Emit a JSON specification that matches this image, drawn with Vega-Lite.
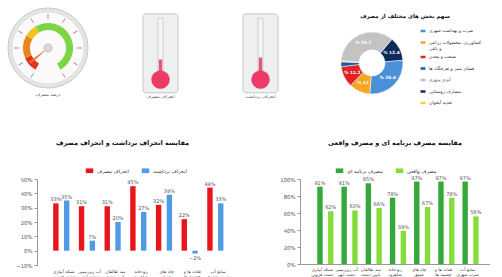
{
  "$schema": "https://vega.github.io/schema/vega-lite/v6.json",
  "padding": 0,
  "background": "white",
  "config": {
    "font": "DejaVu Sans",
    "view": {"stroke": null},
    "title": {"font": "DejaVu Sans", "fontSize": 6.5, "fontWeight": "bold", "color": "#111"},
    "legend": {"labelFont": "DejaVu Sans"},
    "axis": {"labelFont": "DejaVu Sans"}
  },
  "resolve": {"scale": {"color": "independent", "theta": "independent"}, "legend": {"color": "independent"}},
  "columns": 1,
  "align": "none",
  "spacing": 13,
  "concat": [
    {
      "columns": 4,
      "align": "none",
      "spacing": 4,
      "resolve": {"scale": {"color": "independent", "theta": "independent"}, "legend": {"color": "independent"}},
      "concat": [
        {
          "width": 96,
          "height": 96,
          "title": {"text": "درصد مصرف", "orient": "bottom", "offset": -4, "fontSize": 4.5, "fontWeight": "normal", "color": "#555"},
          "layer": [
            {
              "data": {"values": [{"a": -10, "b": 110}]},
              "mark": {"type": "arc", "radius": 40, "fill": "#e4e6e6", "stroke": "#c6caca", "strokeWidth": 1},
              "encoding": {
                "theta": {"field": "a", "type": "quantitative", "stack": null, "scale": {"domain": [0, 100], "range": [3.665, 8.901]}},
                "theta2": {"field": "b"}
              }
            },
            {
              "data": {"values": [{"a": -10, "b": 110}]},
              "mark": {"type": "arc", "radius": 36, "fill": "#fafafa", "stroke": "#d8dada", "strokeWidth": 0.6},
              "encoding": {
                "theta": {"field": "a", "type": "quantitative", "stack": null},
                "theta2": {"field": "b"}
              }
            },
            {
              "data": {"values": [{"t": 0}, {"t": 10}, {"t": 20}, {"t": 30}, {"t": 40}, {"t": 50}, {"t": 60}, {"t": 70}, {"t": 80}, {"t": 90}, {"t": 100}]},
              "mark": {"type": "arc", "radius": 34, "radius2": 29, "thetaOffset": -0.015, "theta2Offset": 0.015, "fill": "#9a9a9a"},
              "encoding": {
                "theta": {"field": "t", "type": "quantitative", "stack": null},
                "theta2": {"field": "t"}
              }
            },
            {
              "data": {"values": [{"s": "r", "a": 0, "b": 12}, {"s": "o", "a": 12, "b": 30}, {"s": "y", "a": 30, "b": 40}, {"s": "g", "a": 40, "b": 100}]},
              "mark": {"type": "arc", "radius": 25, "radius2": 18},
              "encoding": {
                "theta": {"field": "a", "type": "quantitative", "stack": null},
                "theta2": {"field": "b"},
                "color": {"field": "s", "type": "nominal", "scale": {"domain": ["r", "o", "y", "g"], "range": ["#e5301f", "#e8871e", "#f0c419", "#7dd444"]}, "legend": null}
              }
            },
            {
              "data": {"values": [{"v": 7}]},
              "mark": {"type": "arc", "radius": 23, "radius2": 0, "thetaOffset": -0.06, "theta2Offset": 0.06, "fill": "#e8701e"},
              "encoding": {
                "theta": {"field": "v", "type": "quantitative", "stack": null},
                "theta2": {"field": "v"}
              }
            },
            {
              "data": {"values": [{"a": -10, "b": 110}]},
              "mark": {"type": "arc", "radius": 4, "fill": "#d9d9d9", "stroke": "#a8a8a8", "strokeWidth": 0.6},
              "encoding": {
                "theta": {"field": "a", "type": "quantitative", "stack": null},
                "theta2": {"field": "b"}
              }
            }
          ]
        },
        {
          "width": 100,
          "height": 110,
          "data": {"values": [{"level": 21, "label": "انحراف مصرف"}]},
          "layer": [
            {
              "mark": {"type": "rect", "fill": "#eef0f0", "stroke": "#c4c8c8", "strokeWidth": 1, "cornerRadius": 3},
              "encoding": {
                "x": {"datum": 43, "type": "quantitative", "scale": {"domain": [0, 100]}, "axis": null},
                "x2": {"datum": 78},
                "y": {"datum": -45.6, "type": "quantitative", "scale": {"domain": [-63.2, 129.8]},
                      "axis": {"offset": -57, "values": [20, 40, 60, 80, 100], "domain": false, "tickSize": 2, "tickColor": "#999", "labelFontSize": 4, "labelColor": "#777", "labelPadding": 1, "grid": false, "title": null}},
                "y2": {"datum": 112.3}
              }
            },
            {
              "mark": {"type": "rect", "fill": "#f6f6f6", "stroke": "#b5b9b9", "strokeWidth": 0.6},
              "encoding": {
                "x": {"datum": 58, "type": "quantitative", "axis": null},
                "x2": {"datum": 63},
                "y": {"datum": -19, "type": "quantitative", "axis": null},
                "y2": {"datum": 103.5}
              }
            },
            {
              "mark": {"type": "rect", "fill": "#e2587c"},
              "encoding": {
                "x": {"datum": 58.8, "type": "quantitative", "axis": null},
                "x2": {"datum": 62.2},
                "y": {"field": "level", "type": "quantitative", "axis": null},
                "y2": {"datum": -19}
              }
            },
            {
              "mark": {"type": "point", "shape": "circle", "filled": true, "size": 320, "fill": "#ee3a66", "opacity": 1, "stroke": "#d8305a", "strokeWidth": 0.5},
              "encoding": {
                "x": {"datum": 60.5, "type": "quantitative", "axis": null},
                "y": {"datum": -19.3, "type": "quantitative", "axis": null}
              }
            },
            {
              "mark": {"type": "text", "fontSize": 4.5, "fill": "#555"},
              "encoding": {
                "x": {"datum": 60.5, "type": "quantitative", "axis": null},
                "y": {"datum": -53, "type": "quantitative", "axis": null},
                "text": {"field": "label", "type": "nominal"}
              }
            }
          ]
        },
        {
          "width": 100,
          "height": 110,
          "data": {"values": [{"level": 25, "label": "انحراف برداشت"}]},
          "layer": [
            {
              "mark": {"type": "rect", "fill": "#eef0f0", "stroke": "#c4c8c8", "strokeWidth": 1, "cornerRadius": 3},
              "encoding": {
                "x": {"datum": 39, "type": "quantitative", "scale": {"domain": [0, 100]}, "axis": null},
                "x2": {"datum": 74},
                "y": {"datum": -45.6, "type": "quantitative", "scale": {"domain": [-63.2, 129.8]},
                      "axis": {"offset": -53, "values": [20, 40, 60, 80, 100], "domain": false, "tickSize": 2, "tickColor": "#999", "labelFontSize": 4, "labelColor": "#777", "labelPadding": 1, "grid": false, "title": null}},
                "y2": {"datum": 112.3}
              }
            },
            {
              "mark": {"type": "rect", "fill": "#f6f6f6", "stroke": "#b5b9b9", "strokeWidth": 0.6},
              "encoding": {
                "x": {"datum": 54, "type": "quantitative", "axis": null},
                "x2": {"datum": 59},
                "y": {"datum": -19, "type": "quantitative", "axis": null},
                "y2": {"datum": 103.5}
              }
            },
            {
              "mark": {"type": "rect", "fill": "#e2587c"},
              "encoding": {
                "x": {"datum": 54.8, "type": "quantitative", "axis": null},
                "x2": {"datum": 58.2},
                "y": {"field": "level", "type": "quantitative", "axis": null},
                "y2": {"datum": -19}
              }
            },
            {
              "mark": {"type": "point", "shape": "circle", "filled": true, "size": 320, "fill": "#ee3a66", "opacity": 1, "stroke": "#d8305a", "strokeWidth": 0.5},
              "encoding": {
                "x": {"datum": 56.5, "type": "quantitative", "axis": null},
                "y": {"datum": -19.3, "type": "quantitative", "axis": null}
              }
            },
            {
              "mark": {"type": "text", "fontSize": 4.5, "fill": "#555"},
              "encoding": {
                "x": {"datum": 56.5, "type": "quantitative", "axis": null},
                "y": {"datum": -53, "type": "quantitative", "axis": null},
                "text": {"field": "label", "type": "nominal"}
              }
            }
          ]
        },
        {
          "width": 128,
          "height": 126,
          "title": {"text": "سهم بخش های مختلف از مصرف", "offset": -19, "dx": 33, "fontSize": 5.5},
          "data": {"values": [
            {"cat": "مصارف روستایی", "v": 12.5, "o": 1, "lab": "% 12.4"},
            {"cat": "شرب و بهداشت شهری", "v": 27.5, "o": 2, "lab": "% 26.6"},
            {"cat": "کشاورزی، محصولات زراعی|و باغی", "v": 11, "o": 3, "lab": "% 11"},
            {"cat": "صنعت و معدن", "v": 11, "o": 4, "lab": "% 11.2"},
            {"cat": "فضای سبز و تفرجگاه ها", "v": 2.5, "o": 5, "lab": ""},
            {"cat": "تغذیه آبخوان", "v": 0.5, "o": 6, "lab": ""},
            {"cat": "آبزی پروری", "v": 35, "o": 7, "lab": "% 35.7"}
          ]},
          "encoding": {
            "theta": {"field": "v", "type": "quantitative", "stack": true, "scale": {"range": [0.698, 6.981]}},
            "order": {"field": "o", "type": "quantitative"}
          },
          "layer": [
            {
              "mark": {"type": "arc", "radius": 31, "radius2": 13, "stroke": "white", "strokeWidth": 0.5},
              "encoding": {
                "color": {
                  "field": "cat", "type": "nominal",
                  "scale": {
                    "domain": ["شرب و بهداشت شهری", "کشاورزی، محصولات زراعی|و باغی", "صنعت و معدن", "فضای سبز و تفرجگاه ها", "آبزی پروری", "مصارف روستایی", "تغذیه آبخوان"],
                    "range": ["#4a90d9", "#f5a623", "#e02424", "#1e5aa8", "#c3c3c3", "#0c2a5b", "#f2d233"]
                  },
                  "legend": {"orient": "none", "legendX": 112, "legendY": 28, "title": null, "labelFontSize": 4.5, "labelColor": "#333", "labelExpr": "split(datum.label, '|')", "symbolType": "M-1.6,-1H1.6V1H-1.6Z", "symbolSize": 16, "rowPadding": 1.5, "labelLimit": 120, "labelOffset": 3}
                }
              }
            },
            {
              "mark": {"type": "text", "radius": 22, "fill": "white", "fontSize": 4.3, "fontWeight": "bold"},
              "encoding": {
                "detail": {"field": "cat", "type": "nominal"},
                "text": {"field": "lab", "type": "nominal"}
              }
            }
          ]
        }
      ]
    },
    {
      "columns": 2,
      "align": "none",
      "spacing": 5,
      "resolve": {"scale": {"color": "independent"}, "legend": {"color": "independent"}},
      "concat": [
        {
          "width": 245,
          "height": 86,
          "title": {"text": "مقایسه انحراف برداشت و انحراف مصرف", "offset": 21},
          "data": {"values": [
            {"g": "شبکه آبیاری|دشت قزوین", "s": "انحراف مصرف", "v": 0.33},
            {"g": "شبکه آبیاری|دشت قزوین", "s": "انحراف برداشت", "v": 0.35},
            {"g": "آب زیرزمینی|دشت ابهر", "s": "انحراف مصرف", "v": 0.31},
            {"g": "آب زیرزمینی|دشت ابهر", "s": "انحراف برداشت", "v": 0.07},
            {"g": "سد طالقان|پایین دست", "s": "انحراف مصرف", "v": 0.31},
            {"g": "سد طالقان|پایین دست", "s": "انحراف برداشت", "v": 0.20},
            {"g": "رودخانه|شاهرود", "s": "انحراف مصرف", "v": 0.45},
            {"g": "رودخانه|شاهرود", "s": "انحراف برداشت", "v": 0.27},
            {"g": "چاه های|عمیق", "s": "انحراف مصرف", "v": 0.32},
            {"g": "چاه های|عمیق", "s": "انحراف برداشت", "v": 0.39},
            {"g": "قنات ها و|چشمه ها", "s": "انحراف مصرف", "v": 0.22},
            {"g": "قنات ها و|چشمه ها", "s": "انحراف برداشت", "v": -0.02},
            {"g": "منابع آب|شرب شهری", "s": "انحراف مصرف", "v": 0.44},
            {"g": "منابع آب|شرب شهری", "s": "انحراف برداشت", "v": 0.33}
          ]},
          "encoding": {
            "x": {"field": "g", "type": "nominal", "sort": null, "scale": {"range": [37, 245], "paddingInner": 0.16, "paddingOuter": 0.63},
                  "axis": {"title": null, "labelAngle": 0, "labelExpr": "split(datum.value, '|')", "labelFontSize": 4.3, "labelColor": "#444", "labelLineHeight": 5.5, "ticks": false, "domain": false, "labelPadding": 4}},
            "xOffset": {"field": "s", "type": "nominal", "sort": ["انحراف مصرف", "انحراف برداشت"]},
            "y": {"field": "v", "type": "quantitative", "scale": {"domain": [-0.1, 0.5]},
                  "axis": {"title": null, "offset": -37, "values": [-0.1, 0, 0.1, 0.2, 0.3, 0.4, 0.5], "format": ".0%", "grid": false, "domainColor": "#999", "tickColor": "#999", "tickSize": 3, "labelFontSize": 5.3, "labelColor": "#555"}}
          },
          "layer": [
            {
              "mark": {"type": "bar"},
              "encoding": {
                "color": {"field": "s", "type": "nominal", "sort": ["انحراف مصرف", "انحراف برداشت"],
                          "scale": {"domain": ["انحراف مصرف", "انحراف برداشت"], "range": ["#e8151b", "#519ae6"]},
                          "legend": {"orient": "none", "legendX": 86, "legendY": -12, "direction": "horizontal", "title": null, "labelFontSize": 5, "labelColor": "#333", "symbolType": "M-1.6,-1H1.6V1H-1.6Z", "symbolSize": 22, "columnPadding": 12}}
              }
            },
            {
              "transform": [{"filter": "datum.v >= 0"}],
              "mark": {"type": "text", "baseline": "bottom", "dy": -1, "fontSize": 5, "fill": "#555"},
              "encoding": {"text": {"field": "v", "type": "quantitative", "format": ".0%"}}
            },
            {
              "transform": [{"filter": "datum.v < 0"}],
              "mark": {"type": "text", "baseline": "top", "dy": 2, "fontSize": 5, "fill": "#555"},
              "encoding": {"text": {"field": "v", "type": "quantitative", "format": ".0%"}}
            }
          ]
        },
        {
          "width": 190,
          "height": 85,
          "title": {"text": "مقایسه مصرف برنامه ای و مصرف واقعی", "offset": 21},
          "data": {"values": [
            {"g": "شبکه آبیاری|دشت قزوین", "s": "مصرف برنامه ای", "v": 0.91},
            {"g": "شبکه آبیاری|دشت قزوین", "s": "مصرف واقعی", "v": 0.62},
            {"g": "آب زیرزمینی|دشت ابهر", "s": "مصرف برنامه ای", "v": 0.91},
            {"g": "آب زیرزمینی|دشت ابهر", "s": "مصرف واقعی", "v": 0.63},
            {"g": "سد طالقان|پایین دست", "s": "مصرف برنامه ای", "v": 0.95},
            {"g": "سد طالقان|پایین دست", "s": "مصرف واقعی", "v": 0.66},
            {"g": "رودخانه|شاهرود", "s": "مصرف برنامه ای", "v": 0.78},
            {"g": "رودخانه|شاهرود", "s": "مصرف واقعی", "v": 0.39},
            {"g": "چاه های|عمیق", "s": "مصرف برنامه ای", "v": 0.97},
            {"g": "چاه های|عمیق", "s": "مصرف واقعی", "v": 0.67},
            {"g": "قنات ها و|چشمه ها", "s": "مصرف برنامه ای", "v": 0.97},
            {"g": "قنات ها و|چشمه ها", "s": "مصرف واقعی", "v": 0.78},
            {"g": "منابع آب|شرب شهری", "s": "مصرف برنامه ای", "v": 0.97},
            {"g": "منابع آب|شرب شهری", "s": "مصرف واقعی", "v": 0.56}
          ]},
          "encoding": {
            "x": {"field": "g", "type": "nominal", "sort": null, "scale": {"paddingInner": 0.13, "paddingOuter": 0.49},
                  "axis": {"title": null, "labelAngle": 0, "labelExpr": "split(datum.value, '|')", "labelFontSize": 4.3, "labelColor": "#444", "labelLineHeight": 5.5, "ticks": false, "domainColor": "#999", "labelPadding": 3}},
            "xOffset": {"field": "s", "type": "nominal", "sort": ["مصرف برنامه ای", "مصرف واقعی"]},
            "y": {"field": "v", "type": "quantitative", "scale": {"domain": [0, 1]},
                  "axis": {"title": null, "values": [0, 0.2, 0.4, 0.6, 0.8, 1], "format": ".0%", "grid": false, "domainColor": "#999", "tickColor": "#999", "tickSize": 3, "labelFontSize": 5.3, "labelColor": "#555", "minExtent": 50}}
          },
          "layer": [
            {
              "mark": {"type": "bar"},
              "encoding": {
                "color": {"field": "s", "type": "nominal", "sort": ["مصرف برنامه ای", "مصرف واقعی"],
                          "scale": {"domain": ["مصرف برنامه ای", "مصرف واقعی"], "range": ["#34a83a", "#84dc38"]},
                          "legend": {"orient": "none", "legendX": 36, "legendY": -12, "direction": "horizontal", "title": null, "labelFontSize": 5, "labelColor": "#333", "symbolType": "M-1.6,-1H1.6V1H-1.6Z", "symbolSize": 22, "columnPadding": 12}}
              }
            },
            {
              "mark": {"type": "text", "baseline": "bottom", "dy": -1, "fontSize": 5, "fill": "#555"},
              "encoding": {"text": {"field": "v", "type": "quantitative", "format": ".0%"}}
            }
          ]
        }
      ]
    }
  ]
}
